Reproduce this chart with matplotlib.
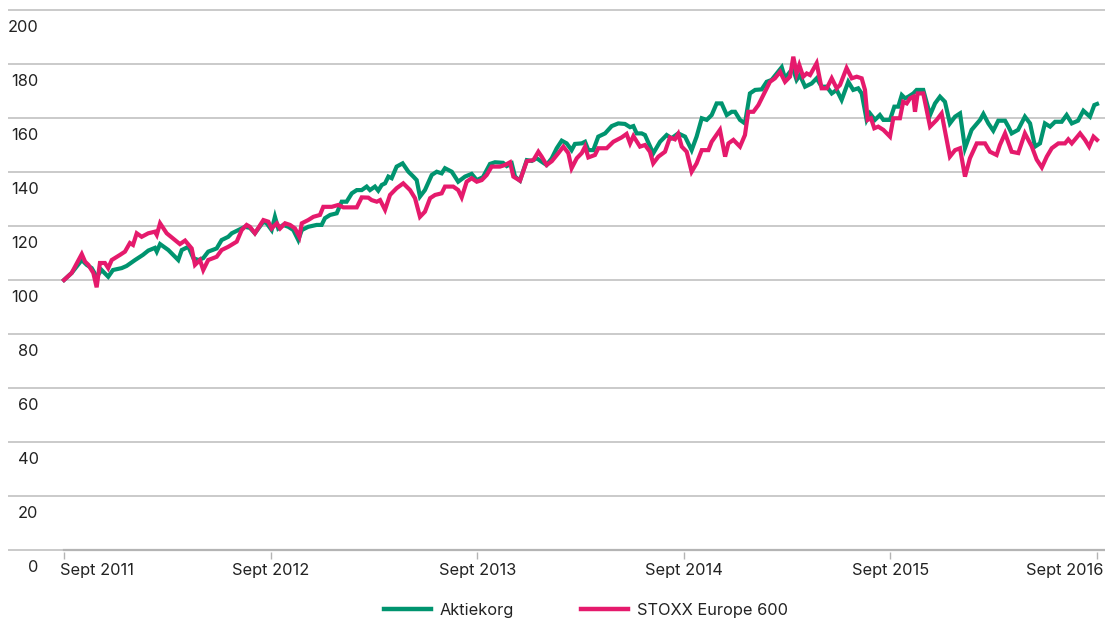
import matplotlib
matplotlib.use("Agg")
import matplotlib.pyplot as plt
from matplotlib.transforms import ScaledTranslation

plt.rcParams['font.family'] = ['Inter', 'DejaVu Sans']

# Years since Sept 2011 and index values (start = 100)
aktie_t = [0.000, 0.037, 0.086, 0.110, 0.134, 0.158, 0.182, 0.214, 0.237, 0.279,
           0.303, 0.344, 0.382, 0.408, 0.440, 0.449, 0.465, 0.505, 0.553, 0.570,
           0.602, 0.626, 0.650, 0.674, 0.698, 0.739, 0.763, 0.795, 0.812, 0.844,
           0.876, 0.900, 0.924, 0.965, 0.981, 1.005, 1.021, 1.037, 1.061, 1.086,
           1.110, 1.134, 1.151, 1.182, 1.223, 1.247, 1.263, 1.288, 1.320, 1.344,
           1.368, 1.393, 1.417, 1.441, 1.465, 1.481, 1.505, 1.521, 1.538, 1.554,
           1.570, 1.586, 1.610, 1.639, 1.667, 1.691, 1.707, 1.723, 1.747, 1.780,
           1.804, 1.828, 1.844, 1.877, 1.908, 1.941, 1.973, 1.998, 2.028, 2.062,
           2.086, 2.125, 2.143, 2.167, 2.183, 2.207, 2.240, 2.264, 2.288, 2.312,
           2.336, 2.361, 2.385, 2.409, 2.433, 2.457, 2.473, 2.506, 2.522, 2.538,
           2.562, 2.586, 2.619, 2.651, 2.683, 2.715, 2.740, 2.756, 2.772, 2.796,
           2.812, 2.852, 2.885, 2.917, 2.941, 2.973, 3.006, 3.038, 3.062, 3.087,
           3.111, 3.135, 3.159, 3.183, 3.208, 3.232, 3.248, 3.272, 3.296, 3.320,
           3.345, 3.377, 3.401, 3.425, 3.450, 3.474, 3.490, 3.514, 3.530, 3.546,
           3.562, 3.587, 3.619, 3.643, 3.667, 3.692, 3.716, 3.740, 3.764, 3.796,
           3.820, 3.844, 3.861, 3.885, 3.901, 3.925, 3.949, 3.966, 3.998, 4.019,
           4.038, 4.055, 4.071, 4.087, 4.111, 4.127, 4.159, 4.192, 4.216, 4.240,
           4.264, 4.288, 4.313, 4.337, 4.361, 4.393, 4.434, 4.450, 4.474, 4.498,
           4.522, 4.555, 4.571, 4.587, 4.618, 4.651, 4.676, 4.700, 4.724, 4.748,
           4.773, 4.797, 4.829, 4.853, 4.878, 4.908, 4.934, 4.966, 4.987, 5.000]
aktie_v = [100.0, 102.6, 107.4, 105.6, 104.4, 101.2, 103.7, 101.2, 103.7, 104.4,
           105.2, 107.4, 109.3, 110.9, 111.9, 110.5, 113.3, 111.1, 107.4, 111.1,
           112.3, 108.1, 107.4, 108.1, 110.5, 111.7, 114.8, 116.0, 117.3, 118.5,
           119.7, 119.3, 117.3, 121.6, 121.0, 118.5, 123.4, 119.1, 120.4, 119.7,
           118.5, 114.8, 118.5, 119.7, 120.4, 120.4, 122.9, 124.1, 124.7, 129.0,
           129.0, 132.1, 133.3, 133.3, 134.6, 133.3, 134.6, 133.1, 135.2, 135.8,
           138.3, 137.7, 142.0, 143.2, 140.1, 138.3, 137.0, 130.9, 133.3, 138.9,
           140.1, 139.5, 141.4, 140.1, 136.4, 138.3, 139.3, 137.0, 138.1, 143.0,
           143.6, 143.4, 142.2, 143.2, 138.3, 136.8, 144.4, 144.1, 145.1, 143.8,
           142.6, 145.1, 148.8, 151.6, 150.6, 148.1, 150.4, 150.6, 151.2, 148.1,
           148.1, 153.1, 154.3, 157.0, 158.0, 157.8, 156.6, 157.0, 154.3, 154.3,
           153.7, 146.9, 151.2, 153.7, 152.5, 154.3, 153.1, 148.1, 153.1, 159.9,
           159.3, 161.1, 165.4, 165.4, 161.1, 162.3, 162.3, 159.3, 158.0, 169.1,
           170.4, 170.6, 173.4, 174.1, 176.5, 178.8, 174.7, 177.1, 177.8, 174.1,
           175.9, 171.6, 172.8, 174.7, 171.6, 171.6, 169.1, 170.4, 166.7, 173.4,
           170.4, 171.0, 169.1, 159.3, 161.7, 159.3, 161.1, 159.3, 159.3, 164.2,
           164.2, 168.5, 167.3, 167.9, 169.1, 170.4, 170.4, 161.1, 165.4, 167.9,
           166.0, 158.0, 160.5, 161.7, 148.8, 155.6, 159.3, 161.5, 158.0, 155.3,
           159.0, 159.0, 156.8, 154.3, 155.6, 160.5, 158.0, 149.4, 150.6, 158.0,
           156.8, 158.6, 158.6, 161.1, 158.0, 159.0, 162.7, 160.5, 164.8, 165.2]

stoxx_t = [0.000, 0.037, 0.086, 0.102, 0.118, 0.142, 0.158, 0.174, 0.198, 0.214,
           0.231, 0.271, 0.295, 0.319, 0.334, 0.352, 0.376, 0.408, 0.440, 0.449,
           0.465, 0.497, 0.537, 0.561, 0.586, 0.618, 0.634, 0.658, 0.674, 0.698,
           0.739, 0.763, 0.795, 0.836, 0.860, 0.884, 0.900, 0.924, 0.965, 0.989,
           1.005, 1.030, 1.046, 1.070, 1.094, 1.118, 1.139, 1.151, 1.182, 1.207,
           1.239, 1.255, 1.296, 1.328, 1.352, 1.417, 1.441, 1.473, 1.489, 1.514,
           1.530, 1.554, 1.578, 1.610, 1.642, 1.675, 1.699, 1.723, 1.747, 1.772,
           1.796, 1.828, 1.844, 1.884, 1.908, 1.925, 1.949, 1.973, 1.998, 2.022,
           2.046, 2.070, 2.110, 2.135, 2.159, 2.175, 2.207, 2.240, 2.272, 2.296,
           2.312, 2.336, 2.361, 2.393, 2.417, 2.441, 2.457, 2.482, 2.506, 2.522,
           2.538, 2.570, 2.586, 2.627, 2.659, 2.699, 2.723, 2.740, 2.756, 2.788,
           2.812, 2.836, 2.852, 2.877, 2.909, 2.933, 2.957, 2.973, 2.990, 3.014,
           3.038, 3.062, 3.087, 3.119, 3.135, 3.175, 3.200, 3.216, 3.240, 3.272,
           3.296, 3.312, 3.337, 3.361, 3.385, 3.417, 3.441, 3.466, 3.490, 3.514,
           3.530, 3.546, 3.559, 3.578, 3.595, 3.611, 3.643, 3.667, 3.692, 3.716,
           3.740, 3.756, 3.788, 3.813, 3.837, 3.861, 3.877, 3.890, 3.906, 3.922,
           3.941, 3.966, 3.998, 4.014, 4.046, 4.062, 4.079, 4.095, 4.111, 4.119,
           4.132, 4.159, 4.192, 4.224, 4.248, 4.288, 4.313, 4.337, 4.361, 4.385,
           4.418, 4.458, 4.482, 4.514, 4.530, 4.555, 4.587, 4.619, 4.651, 4.684,
           4.708, 4.733, 4.757, 4.781, 4.813, 4.845, 4.861, 4.878, 4.918, 4.942,
           4.962, 4.983, 5.000]
stoxx_v = [100.0, 102.6, 109.6, 106.8, 105.6, 102.6, 97.3, 106.3, 106.3, 104.4,
           107.4, 109.3, 110.5, 113.7, 113.0, 117.3, 116.0, 117.3, 117.9, 116.7,
           121.0, 117.3, 114.8, 113.3, 114.6, 111.7, 105.6, 107.4, 103.7, 107.4,
           108.6, 111.1, 112.3, 114.2, 118.5, 120.4, 119.7, 117.3, 122.2, 121.6,
           119.1, 121.0, 119.1, 121.0, 120.4, 119.1, 116.0, 121.0, 122.2, 123.4,
           124.1, 127.1, 127.1, 127.8, 126.9, 126.9, 130.6, 130.5, 129.6, 129.0,
           129.6, 126.0, 131.5, 134.0, 135.8, 133.3, 130.3, 123.4, 125.3, 130.3,
           131.5, 132.1, 134.6, 134.6, 133.3, 130.6, 136.4, 137.7, 136.4, 137.0,
           138.9, 142.0, 142.0, 142.6, 143.6, 138.3, 136.8, 144.0, 144.4, 147.5,
           145.7, 142.6, 144.0, 147.0, 149.4, 147.0, 141.4, 145.1, 147.0, 149.4,
           145.4, 146.3, 148.8, 148.8, 151.2, 152.8, 154.1, 150.6, 153.3, 149.4,
           150.0, 147.5, 143.2, 145.7, 147.5, 152.8, 152.1, 154.1, 149.4, 147.5,
           140.1, 143.2, 148.1, 148.1, 151.2, 155.6, 145.7, 150.6, 151.9, 149.4,
           153.7, 162.3, 162.3, 164.8, 168.5, 173.4, 174.7, 177.1, 173.4, 175.3,
           182.7, 176.5, 179.6, 175.3, 176.5, 175.9, 180.3, 171.0, 171.0, 174.7,
           171.0, 172.2, 178.5, 174.7, 175.3, 174.7, 170.4, 159.3, 159.9, 156.2,
           156.8, 155.6, 153.1, 159.9, 159.9, 166.0, 165.4, 167.3, 167.9, 162.3,
           169.1, 169.1, 156.8, 159.3, 161.7, 145.7, 148.1, 148.8, 138.3, 145.1,
           150.6, 150.6, 147.5, 146.3, 150.0, 154.3, 147.5, 147.0, 154.3, 149.5,
           144.6, 141.7, 145.7, 148.8, 150.6, 150.6, 152.1, 150.6, 154.3, 151.9,
           149.4, 153.1, 151.9]

series_names = ["Aktiekorg", "STOXX Europe 600"]
series_colors = ["#00946f", "#e51a6c"]

x_ticks = [0, 1, 2, 3, 4, 5]
x_labels = ["Sept 2011", "Sept 2012", "Sept 2013", "Sept 2014", "Sept 2015", "Sept 2016"]
y_ticks = [0, 20, 40, 60, 80, 100, 120, 140, 160, 180, 200]
y_labels = [str(v) for v in y_ticks]

W, H = 1105, 621
FS = 11.8
fig = plt.figure(figsize=(W / 100, H / 100), dpi=100)
px_per_year = 206.6
px_per_unit = 2.7
ax = fig.add_axes([8 / W, (H - 552) / H, (W - 8) / W, 544 / H])
ax.set_xlim(-56 / px_per_year, 5 + 8 / px_per_year)
ax.set_ylim(-2 / px_per_unit, 200 + 2 / px_per_unit)

for s in ["top", "right", "left", "bottom"]:
    ax.spines[s].set_visible(False)

ax.yaxis.grid(True, color="#c6c6c6", linewidth=1.3)
ax.set_axisbelow(True)
ax.axhline(0, xmin=56 / (W - 8), xmax=1, color="#b4b4b4", linewidth=1.6, zorder=1)

ax.plot(aktie_t, aktie_v, color=series_colors[0], linewidth=3.0, label=series_names[0],
        solid_joinstyle="miter", zorder=3)
ax.plot(stoxx_t, stoxx_v, color=series_colors[1], linewidth=3.0, label=series_names[1],
        solid_joinstyle="miter", zorder=4)

ax.set_yticks(y_ticks)
ax.set_yticklabels(y_labels, fontsize=FS, color="#222222")
ax.tick_params(axis="y", length=0, pad=-22)
for lab in ax.get_yticklabels():
    lab.set_horizontalalignment("right")
    lab.set_transform(lab.get_transform() + ScaledTranslation(0, -15.5 / 100, fig.dpi_scale_trans))

ax.set_xticks(x_ticks)
ax.set_xticklabels(x_labels, fontsize=FS, color="#222222")
ax.tick_params(axis="x", length=5, width=1, color="#b4b4b4", pad=3)
xl = ax.get_xticklabels()
xl[0].set_horizontalalignment("left")
xl[0].set_transform(xl[0].get_transform() + ScaledTranslation(-4 / 100, 0, fig.dpi_scale_trans))
xl[-1].set_horizontalalignment("right")
xl[-1].set_transform(xl[-1].get_transform() + ScaledTranslation(6 / 100, 0, fig.dpi_scale_trans))

leg = fig.legend(loc="center", bbox_to_anchor=(586 / W, 1 - 610 / H), ncol=2, frameon=False,
                 fontsize=FS, handlelength=2.85, handletextpad=0.55, columnspacing=4.1)
for line in leg.get_lines():
    line.set_linewidth(3.2)
for t in leg.get_texts():
    t.set_color("#222222")

fig.savefig("out.png", dpi=100)
